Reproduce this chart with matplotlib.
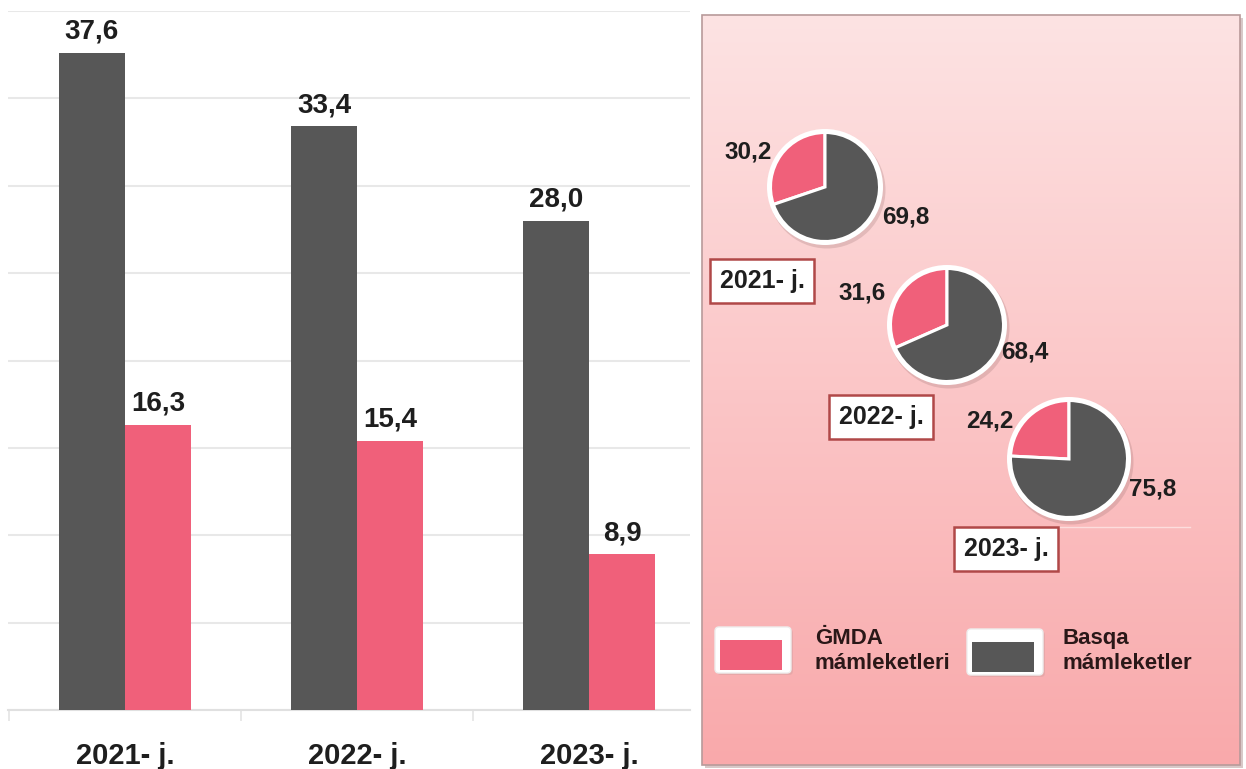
import numpy as np
import matplotlib
matplotlib.use("Agg")
import matplotlib.pyplot as plt
from matplotlib import font_manager
from matplotlib.patches import Rectangle, FancyBboxPatch, Circle
from matplotlib.colors import LinearSegmentedColormap

# ---------------- data ----------------
years = ["2021- j.", "2022- j.", "2023- j."]
other_vals = [37.6, 33.4, 28.0]      # Basqa mámleketler
gmda_vals = [16.3, 15.4, 8.9]        # ĠMDA mámleketleri
pie_gmda = [30.2, 31.6, 24.2]
pie_other = [69.8, 68.4, 75.8]
legend_labels = ["ĠMDA\nmámleketleri", "Basqa\nmámleketler"]

DARK = "#575757"
PINK = "#f0607a"
TXT = "#1e1e1e"

def fmt(v):
    return f"{v:.1f}".replace(".", ",")

def has_font(name):
    try:
        font_manager.findfont(font_manager.FontProperties(family=name), fallback_to_default=False)
        return True
    except Exception:
        return False

MAIN = "Liberation Sans" if has_font("Liberation Sans") else "DejaVu Sans"
NARROW = "Liberation Sans Narrow" if has_font("Liberation Sans Narrow") else MAIN
plt.rcParams["font.family"] = [MAIN, "DejaVu Sans"]

W, H = 1246, 769
fig = plt.figure(figsize=(W / 100, H / 100), dpi=100)
fig.patch.set_facecolor("white")

# ---------------- bar chart ----------------
L, R, T, B = 8, 690, 11, 710
ax = fig.add_axes([L / W, 1 - B / H, (R - L) / W, (B - T) / H])
x = np.arange(len(years))
bw = 0.2845
b1 = ax.bar(x - bw / 2, other_vals, bw, color=DARK, zorder=3)
b2 = ax.bar(x + bw / 2, gmda_vals, bw, color=PINK, zorder=3)
ax.bar_label(b1, labels=[fmt(v) for v in other_vals], padding=6,
             fontsize=20, fontweight="bold", color=TXT)
ax.bar_label(b2, labels=[fmt(v) for v in gmda_vals], padding=6,
             fontsize=20, fontweight="bold", color=TXT)
ax.set_ylim(0, 40)
ax.set_xlim(-0.504, 2.435)
ax.set_yticks(np.arange(0, 41, 5))
ax.yaxis.grid(True, color="#e8e8e8", linewidth=1.5, zorder=0)
ax.tick_params(axis="y", length=0, labelleft=False)
ax.set_xticks(x, years, fontsize=21, fontweight="bold", family=NARROW, color=TXT)
ax.set_xticks([-0.5, 0.5, 1.5], minor=True)
ax.tick_params(axis="x", which="major", length=0, pad=23)
ax.tick_params(axis="x", which="minor", length=8, color="#e4e4e4", width=1.2)
for s in ["top", "right", "left"]:
    ax.spines[s].set_visible(False)
ax.spines["bottom"].set_color("#e0e0e0")
ax.spines["bottom"].set_linewidth(1.5)
ax.set_facecolor("white")

# ---------------- overlay (pixel coordinates, y up) ----------------
ov = fig.add_axes([0, 0, 1, 1], zorder=5)
ov.set_xlim(0, W)
ov.set_ylim(0, H)
ov.axis("off")

def Y(yp):
    return H - yp

px0, px1, py0, py1 = 702, 1240, 15, 765
# shadow
ov.add_patch(Rectangle((px0 + 3, Y(py1) - 3), px1 - px0, py1 - py0,
                       facecolor="#d8c8c8", edgecolor="none", zorder=0))
grad = LinearSegmentedColormap.from_list("g", ["#f9a9ab", "#fde3e3"])
img = np.linspace(0, 1, 256).reshape(-1, 1)
ov.imshow(img, cmap=grad, aspect="auto", origin="lower",
          extent=[px0, px1, Y(py1), Y(py0)], zorder=1)
ov.add_patch(Rectangle((px0, Y(py1)), px1 - px0, py1 - py0, facecolor="none",
                       edgecolor="#b89a9a", linewidth=1.2, zorder=2))
# faint line inside panel
ov.plot([1040, 1190], [Y(527), Y(527)], color="white", alpha=0.5, lw=1, zorder=2)

centers = [(825, 187), (947, 325), (1069, 459)]
radii = [56, 58, 60]
lab_g = [(748, 152), (862, 293), (990, 421)]
lab_o = [(906, 217), (1025, 352), (1153, 489)]
boxes = [(762, 281), (881, 417), (1006, 549)]

for i in range(3):
    cx, cy = centers[i]
    r = radii[i]
    ov.add_patch(Circle((cx + 2, Y(cy) - 3), r + 2.5, facecolor="#9a7070",
                        alpha=0.25, edgecolor="none", zorder=3))
    ov.add_patch(Circle((cx, Y(cy)), r + 2, facecolor="white",
                        edgecolor="none", zorder=3.5))
    wedges, _ = ov.pie([pie_gmda[i], pie_other[i]], colors=[PINK, DARK],
                       startangle=90, counterclock=True,
                       center=(cx, Y(cy)), radius=r - 1.5, frame=True,
                       wedgeprops=dict(edgecolor="white", linewidth=2.2))
    for w in wedges:
        w.set_zorder(4)
    ov.text(lab_g[i][0], Y(lab_g[i][1]), fmt(pie_gmda[i]), ha="center", va="center",
            fontsize=17.5, fontweight="bold", color=TXT, zorder=6)
    ov.text(lab_o[i][0], Y(lab_o[i][1]), fmt(pie_other[i]), ha="center", va="center",
            fontsize=17.5, fontweight="bold", color=TXT, zorder=6)
    bx, by = boxes[i]
    ov.text(bx, Y(by), years[i], ha="center", va="center", fontsize=18,
            fontweight="bold", color=TXT, zorder=6,
            bbox=dict(boxstyle="square,pad=0.4", facecolor="white",
                      edgecolor="#b04848", linewidth=1.8))

# legend icons
icons = [(720, 640, 62, 30, PINK, 815), (972, 642, 62, 30, DARK, 1062)]
for (ix, iy, iw, ih, col, tx), lab in zip(icons, legend_labels):
    ov.add_patch(FancyBboxPatch((ix - 2, Y(iy + ih + 4)), iw + 12, ih + 14,
                                boxstyle="round,pad=1,rounding_size=4",
                                facecolor="#c89a9a", alpha=0.35, edgecolor="none", zorder=4))
    ov.add_patch(FancyBboxPatch((ix - 4, Y(iy + ih + 2)), iw + 12, ih + 14,
                                boxstyle="round,pad=1,rounding_size=4",
                                facecolor="white", edgecolor="#eeeeee", lw=1, zorder=5))
    ov.add_patch(Rectangle((ix, Y(iy + ih)), iw, ih, facecolor=col,
                           edgecolor="none", zorder=6))
    ov.text(tx, Y(651), lab, ha="left", va="center", fontsize=16,
            fontweight="bold", color="#2a1818", linespacing=1.2, zorder=6)

ov.set_xlim(0, W)
ov.set_ylim(0, H)

fig.savefig("out.png", dpi=100)
